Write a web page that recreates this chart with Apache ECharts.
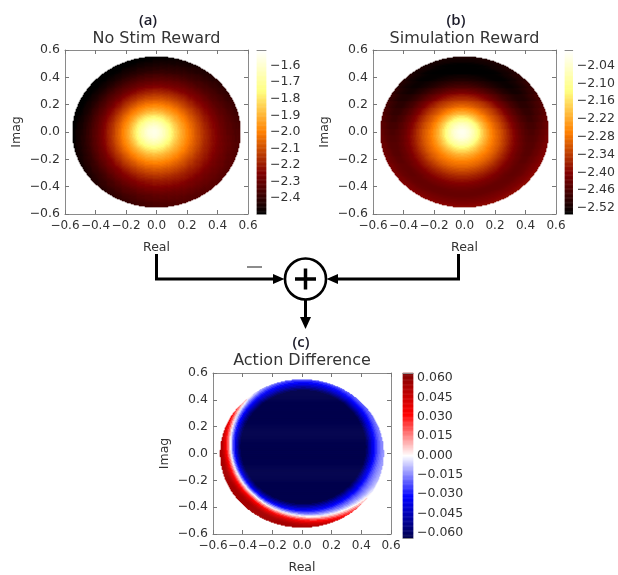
<!DOCTYPE html>
<html>
<head>
<meta charset="utf-8">
<script src="https://cdn.jsdelivr.net/npm/echarts@6/dist/echarts.min.js"></script>
<style>
html, body { margin: 0; padding: 0; background: #fff; }
#chart { width: 618px; height: 575px; }
</style>
</head>
<body>
<div id="chart"></div>
<script>
var myChart = echarts.init(document.getElementById("chart"));

// radial profiles (value vs distance from the peak, step 0.01)
var rings = [];
for (var r = 0; r <= 65; r++) rings.push(r / 100);
var noStimProfile = [
	-1.550, -1.552, -1.557, -1.566, -1.580, -1.600, -1.620, -1.640, -1.664, -1.692,
	-1.720, -1.748, -1.776, -1.804, -1.832, -1.860, -1.884, -1.908, -1.930, -1.950,
	-1.970, -1.990, -2.010, -2.029, -2.047, -2.065, -2.083, -2.101, -2.118, -2.134,
	-2.150, -2.166, -2.182, -2.198, -2.214, -2.230, -2.242, -2.254, -2.266, -2.278,
	-2.290, -2.302, -2.314, -2.326, -2.338, -2.350, -2.358, -2.366, -2.374, -2.382,
	-2.390, -2.398, -2.406, -2.413, -2.419, -2.425, -2.431, -2.437, -2.442, -2.446,
	-2.450, -2.454, -2.458, -2.462, -2.466, -2.470];
var simProfile = [
	-2.006, -2.007, -2.011, -2.018, -2.026, -2.035, -2.048, -2.063, -2.078, -2.094,
	-2.110, -2.130, -2.150, -2.168, -2.184, -2.200, -2.214, -2.228, -2.241, -2.253,
	-2.265, -2.275, -2.285, -2.294, -2.302, -2.310, -2.320, -2.330, -2.340, -2.350,
	-2.360, -2.370, -2.380, -2.389, -2.397, -2.405, -2.413, -2.421, -2.428, -2.434,
	-2.440, -2.445, -2.450, -2.454, -2.457, -2.458, -2.458, -2.456, -2.453, -2.449,
	-2.445, -2.440, -2.435, -2.430, -2.425, -2.420, -2.416, -2.412, -2.408, -2.404,
	-2.400, -2.398, -2.396, -2.394, -2.392, -2.390];
var noStimPeak = [-0.02, 0];
var simPeak = [-0.015, 0];

// shading across the disk (darker to the upper left / top)
var tiltAt = [-0.6, -0.55, -0.5, -0.45, -0.4, -0.35, -0.3, -0.25, -0.2, -0.15, -0.1, -0.05, 0,
	0.05, 0.1, 0.15, 0.2, 0.25, 0.3, 0.35, 0.4, 0.45, 0.5, 0.55, 0.6];
var noStimTiltX = [-0.09, -0.083, -0.075, -0.068, -0.06, -0.053, -0.045, -0.038, -0.03, -0.023, -0.015, -0.008, 0,
	0.008, 0.015, 0.023, 0.03, 0.038, 0.045, 0.053, 0.06, 0.068, 0.075, 0.083, 0.09];
var noStimTiltY = [0.072, 0.066, 0.06, 0.054, 0.048, 0.042, 0.036, 0.03, 0.024, 0.018, 0.012, 0.006, 0,
	-0.006, -0.012, -0.018, -0.024, -0.03, -0.036, -0.042, -0.048, -0.054, -0.06, -0.066, -0.072];
var simTiltY = [0.03, 0.03, 0.03, 0.03, 0.028, 0.026, 0.024, 0.021, 0.018, 0.014, 0.01, 0.005, 0,
	-0.008, -0.016, -0.025, -0.035, -0.047, -0.058, -0.068, -0.076, -0.083, -0.088, -0.09, -0.09];

// action difference: blue core around one centre, red rim around another
var diffInnerAt = [0.40, 0.41, 0.42, 0.43, 0.44, 0.45, 0.46, 0.47, 0.48, 0.49, 0.50, 0.51, 0.52, 0.53, 0.54, 0.55, 0.56];
var diffInner = [-0.07, -0.068, -0.064, -0.059, -0.053, -0.047, -0.041, -0.036, -0.031, -0.027, -0.023, -0.020,
	-0.017, -0.015, -0.013, -0.012, -0.011];
var diffOuterAt = [0.49, 0.50, 0.51, 0.52, 0.53, 0.54, 0.55, 0.56, 0.57, 0.58, 0.59, 0.60, 0.61, 0.62, 0.63];
var diffOuter = [0, 0.001, 0.002, 0.004, 0.007, 0.012, 0.018, 0.026, 0.034, 0.042, 0.049, 0.055, 0.06, 0.064, 0.066];
var diffInnerCentre = [0.01, 0.05];
var diffOuterCentre = [0.08, 0.08];

var diskRadius = 0.55;

// colour bars
var barRangeA = [-2.496, -1.506];
var barRangeB = [-2.54, -1.988];
var barRangeC = [-0.064, 0.064];
var barTicksA = [-2.4, -2.3, -2.2, -2.1, -2.0, -1.9, -1.8, -1.7, -1.6];
var barTicksB = [-2.52, -2.46, -2.40, -2.34, -2.28, -2.22, -2.16, -2.10, -2.04];
var barTicksC = [-0.060, -0.045, -0.030, -0.015, 0, 0.015, 0.030, 0.045, 0.060];

var afmhot = ["#000000", "#800000", "#ff8000", "#ffff80", "#ffffff"];
var seismic = ["#00004d", "#0000ff", "#ffffff", "#ff0000", "#800000"];

var barLevels = 200;

function nearest(keys, vals, v) {
	var k = 0;
	for (var i = 1; i < keys.length; i++) {
		if (Math.abs(keys[i] - v) < Math.abs(keys[k] - v)) k = i;
	}
	return vals[k];
}

function dist(x, y, c) {
	return Math.sqrt((x - c[0]) * (x - c[0]) + (y - c[1]) * (y - c[1]));
}

// one cell per screen pixel of the plot box
function buildMap(valueAt, range, nx, ny) {
	var out = [];
	for (var i = 0; i < nx; i++) {
		for (var j = 0; j < ny; j++) {
			var x = -0.6 + (i + 0.5) * 1.2 / nx;
			var y = -0.6 + (j + 0.5) * 1.2 / ny;
			if (x * x + y * y > diskRadius * diskRadius) continue;
			var v = Math.max(range[0], Math.min(range[1], valueAt(x, y)));
			out.push([i, j, v]);
		}
	}
	return out;
}

var boxA = [65, 50, 183, 164];
var boxB = [373, 50, 183, 164];
var boxC = [213, 373, 178, 165];

var noStimData = buildMap(function (x, y) {
	return nearest(rings, noStimProfile, dist(x, y, noStimPeak)) +
		nearest(tiltAt, noStimTiltX, x) + nearest(tiltAt, noStimTiltY, y);
}, barRangeA, boxA[2], boxA[3]);
var simData = buildMap(function (x, y) {
	return nearest(rings, simProfile, dist(x, y, simPeak)) + nearest(tiltAt, simTiltY, y);
}, barRangeB, boxB[2], boxB[3]);
var diffData = buildMap(function (x, y) {
	return nearest(diffInnerAt, diffInner, dist(x, y, diffInnerCentre)) +
		nearest(diffOuterAt, diffOuter, dist(x, y, diffOuterCentre));
}, barRangeC, boxC[2], boxC[3]);

function fmt(v, d) {
	if (Math.abs(v) < 1e-9) v = 0;
	var s = v.toFixed(d);
	return s.charAt(0) === "-" ? "\u2212" + s.slice(1) : s;
}

function indexList(n) {
	var a = [];
	for (var i = 0; i < n; i++) a.push(i);
	return a;
}

var tickFont = { color: "#333", fontSize: 12.5, fontFamily: "DejaVu Sans" };
var frameColor = "#8a8a8a";

var grids = [], xAxes = [], yAxes = [], series = [];

function frameAxis(g, pos, labels, name) {
	var horizontal = pos === "bottom" || pos === "top";
	var ax = {
		type: "value", gridIndex: g, position: pos, min: -0.6, max: 0.6, interval: 0.2,
		splitLine: { show: false },
		axisLine: { onZero: false, lineStyle: { color: frameColor, width: 1 } },
		axisTick: { inside: true, length: 4, lineStyle: { color: "#777" } },
		axisLabel: { show: labels, showMinLabel: true, showMaxLabel: true, hideOverlap: false,
			margin: horizontal ? 6 : 5, color: tickFont.color,
			fontSize: horizontal ? 12 : tickFont.fontSize, fontFamily: tickFont.fontFamily,
			formatter: function (v) { return fmt(v, 1); } }
	};
	if (name) {
		ax.name = name;
		ax.nameLocation = "middle";
		ax.nameGap = horizontal ? 27 : 42;
		ax.nameTextStyle = tickFont;
	}
	return ax;
}

function addPlot(box, data) {
	var g = grids.length;
	grids.push({ left: box[0], top: box[1], width: box[2], height: box[3] });
	var xi = xAxes.length, yi = yAxes.length;
	xAxes.push(frameAxis(g, "bottom", true, "Real"));
	xAxes.push(frameAxis(g, "top", false));
	xAxes.push({ type: "category", gridIndex: g, data: indexList(box[2]), show: false });
	yAxes.push(frameAxis(g, "left", true, "Imag"));
	yAxes.push(frameAxis(g, "right", false));
	yAxes.push({ type: "category", gridIndex: g, data: indexList(box[3]), show: false });
	series.push({
		type: "heatmap", xAxisIndex: xi + 2, yAxisIndex: yi + 2, data: data,
		progressive: 0, silent: true, emphasis: { disabled: true }
	});
	return series.length - 1;
}

function addBar(box, range, ticks, digits) {
	var g = grids.length;
	grids.push({ left: box[0], top: box[1], width: box[2], height: box[3] });
	var xi = xAxes.length, yi = yAxes.length;
	var edge = { onZero: false, lineStyle: { color: frameColor, width: 1 } };
	xAxes.push({ type: "category", gridIndex: g, data: ["v"], position: "bottom", z: 5,
		axisLine: edge, axisTick: { show: false }, axisLabel: { show: false } });
	xAxes.push({ type: "category", gridIndex: g, data: ["v"], position: "top", z: 5,
		axisLine: edge, axisTick: { show: false }, axisLabel: { show: false } });
	yAxes.push({ type: "category", gridIndex: g, data: indexList(barLevels), show: false });
	yAxes.push({ type: "value", gridIndex: g, position: "left", min: range[0], max: range[1], z: 5,
		axisLine: edge, axisTick: { show: false }, axisLabel: { show: false }, splitLine: { show: false } });
	yAxes.push({
		type: "value", gridIndex: g, position: "right", min: range[0], max: range[1], z: 5,
		axisLine: edge, splitLine: { show: false },
		axisTick: { inside: true, length: 4, customValues: ticks, lineStyle: { color: "#555" } },
		axisLabel: { customValues: ticks, margin: 4, color: tickFont.color, fontSize: tickFont.fontSize,
			fontFamily: tickFont.fontFamily, formatter: function (v) { return fmt(v, digits); } }
	});
	var data = [];
	for (var k = 0; k < barLevels; k++) {
		data.push([0, k, range[0] + (k + 0.5) * (range[1] - range[0]) / barLevels]);
	}
	series.push({
		type: "heatmap", xAxisIndex: xi, yAxisIndex: yi, data: data,
		progressive: 0, silent: true, emphasis: { disabled: true }
	});
	return series.length - 1;
}

var sA = addPlot(boxA, noStimData);
var sB = addPlot(boxB, simData);
var sC = addPlot(boxC, diffData);
var bA = addBar([257, 50, 9, 164], barRangeA, barTicksA, 1);
var bB = addBar([565, 50, 9, 164], barRangeB, barTicksB, 2);
var bC = addBar([403, 373, 10, 165], barRangeC, barTicksC, 3);

function label(text, x, y, size, family, color, weight) {
	return {
		type: "text", x: x, y: y, z: 10,
		style: { text: text, fill: color, font: (weight || "normal") + " " + size + "px '" + family + "'",
			textAlign: "center", textVerticalAlign: "middle" }
	};
}

var ink = "#000";
var graphic = [
	label("(a)", 148, 21, 15, "Open Sans", "#1c1c2a", "600"),
	label("No Stim Reward", 156.5, 39, 16, "DejaVu Sans", "#333"),
	label("(b)", 456, 21, 15, "Open Sans", "#1c1c2a", "600"),
	label("Simulation Reward", 464.5, 39, 16, "DejaVu Sans", "#333"),
	label("(c)", 301, 343, 15, "Open Sans", "#1c1c2a", "600"),
	label("Action Difference", 302, 361, 16, "DejaVu Sans", "#333"),
	// summing junction
	{ type: "polyline", shape: { points: [[156.5, 254], [156.5, 279], [274, 279]] }, style: { stroke: ink, lineWidth: 3 } },
	{ type: "polygon", shape: { points: [[284.5, 279], [273, 274], [273, 284]] }, style: { fill: ink } },
	{ type: "polyline", shape: { points: [[458.5, 254], [458.5, 279], [337, 279]] }, style: { stroke: ink, lineWidth: 3 } },
	{ type: "polygon", shape: { points: [[326.5, 279], [338, 274], [338, 284]] }, style: { fill: ink } },
	{ type: "circle", shape: { cx: 305.5, cy: 279, r: 20.5 }, style: { fill: "#fff", stroke: ink, lineWidth: 2.6 } },
	{ type: "line", shape: { x1: 295, y1: 279, x2: 316, y2: 279 }, style: { stroke: ink, lineWidth: 3.5 } },
	{ type: "line", shape: { x1: 305.5, y1: 268.5, x2: 305.5, y2: 289.5 }, style: { stroke: ink, lineWidth: 3.5 } },
	{ type: "line", shape: { x1: 305.5, y1: 300, x2: 305.5, y2: 318 }, style: { stroke: ink, lineWidth: 3 } },
	{ type: "polygon", shape: { points: [[305.5, 329], [300, 317], [311, 317]] }, style: { fill: ink } },
	{ type: "line", shape: { x1: 247, y1: 267, x2: 262, y2: 267 }, style: { stroke: "#666", lineWidth: 1.5 } }
];

var option = {
	animation: false,
	backgroundColor: "#fff",
	grid: grids,
	xAxis: xAxes,
	yAxis: yAxes,
	visualMap: [
		{ type: "continuous", show: false, seriesIndex: [sA, bA], dimension: 2, min: barRangeA[0], max: barRangeA[1], inRange: { color: afmhot } },
		{ type: "continuous", show: false, seriesIndex: [sB, bB], dimension: 2, min: barRangeB[0], max: barRangeB[1], inRange: { color: afmhot } },
		{ type: "continuous", show: false, seriesIndex: [sC, bC], dimension: 2, min: barRangeC[0], max: barRangeC[1], inRange: { color: seismic } }
	],
	graphic: graphic,
	series: series
};

myChart.setOption(option);

window.addEventListener("resize", function () {
	myChart.resize();
});
</script>
</body>
</html>
